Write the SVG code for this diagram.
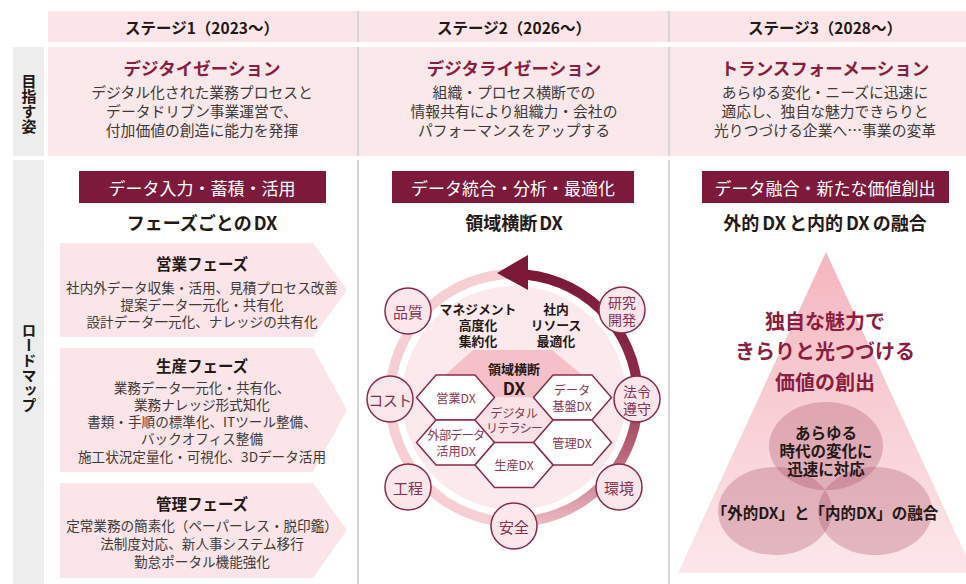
<svg xmlns="http://www.w3.org/2000/svg" width="966" height="584" viewBox="0 0 966 584">
<defs>
<style>
text{font-family:"Noto Sans CJK JP","Noto Sans",sans-serif;text-anchor:middle;dominant-baseline:central}
.hd{font-size:15.5px;font-weight:700;fill:#231815}
.t2{font-size:17.5px;font-weight:700;fill:#8b1d40}
.bd{font-size:14.8px;fill:#3e3a39}
.bx{fill:#7d1a3b}
.bxt{font-size:17px;fill:#fff}
.sub{font-size:18px;font-weight:700;fill:#231815}
.ph{fill:#fbe5e8}
.pht{font-size:15.5px;font-weight:700;fill:#231815}
.pb{font-size:13.6px;fill:#3e3a39}
.lbl{font-size:15px;font-weight:700;fill:#231815;writing-mode:tb}
.sc{fill:#fce8eb;stroke:#8b2a4a;stroke-width:1.5}
.sct{font-size:15px;fill:#8a3050}
.sc2{font-size:14px;fill:#8a3050}
.hx{fill:#fff;stroke:#8b2a4a;stroke-width:1.5}
.hxt{font-size:12.2px;fill:#8a3a55}
.mt{font-size:12.8px;font-weight:700;fill:#231815}
.pt{font-size:20px;font-weight:700;fill:#8b1d40}
.el{fill:#a0405a;fill-opacity:0.28}
.et{font-size:15.5px;font-weight:700;fill:#231815}
.dv{stroke:#d6d6d6;stroke-width:2}
</style>
<linearGradient id="arcg" gradientUnits="userSpaceOnUse" x1="0" y1="270" x2="0" y2="530">
<stop offset="0" stop-color="#7a1838"/>
<stop offset="0.45" stop-color="#8e2c4a"/>
<stop offset="0.72" stop-color="#bb6a7d"/>
<stop offset="1" stop-color="#f0c0c8"/>
</linearGradient>
<linearGradient id="trig" x1="0" y1="0" x2="0" y2="1">
<stop offset="0" stop-color="#f4b6bf"/>
<stop offset="1" stop-color="#fce7ea"/>
</linearGradient>
</defs>

<g id="grid">
<rect x="0" y="0" width="966" height="584" fill="#fff"/>
<rect x="48" y="11" width="918" height="31" fill="#fbe5e8"/>
<rect x="48" y="47" width="918" height="109" fill="#fbe8ea"/>
<rect x="13" y="47" width="31" height="109" fill="#ededed"/>
<rect x="13" y="160" width="31" height="424" fill="#ededed"/>
<line class="dv" x1="358" y1="11" x2="358" y2="42"/>
<line class="dv" x1="669" y1="11" x2="669" y2="42"/>
<line class="dv" x1="358" y1="47" x2="358" y2="156"/>
<line class="dv" x1="669" y1="47" x2="669" y2="156"/>
<line class="dv" x1="358" y1="160" x2="358" y2="584"/>
<line class="dv" x1="669" y1="160" x2="669" y2="584"/>
</g>

<g id="labels">
<text class="lbl" x="29" y="104">目指す姿</text>
<text class="lbl" x="29" y="368">ロードマップ</text>
</g>

<g id="header">
<text class="hd" x="202" y="27">ステージ1（2023〜）</text>
<text class="hd" x="514" y="27">ステージ2（2026〜）</text>
<text class="hd" x="825" y="27">ステージ3（2028〜）</text>
</g>

<g id="goal1">
<text class="t2" x="202" y="67">デジタイゼーション</text>
<text class="bd" x="202" y="91">デジタル化された業務プロセスと</text>
<text class="bd" x="202" y="110">データドリブン事業運営で、</text>
<text class="bd" x="202" y="129">付加価値の創造に能力を発揮</text>
</g>
<g id="goal2">
<text class="t2" x="514" y="67">デジタライゼーション</text>
<text class="bd" x="514" y="91">組織・プロセス横断での</text>
<text class="bd" x="514" y="110">情報共有により組織力・会社の</text>
<text class="bd" x="514" y="129">パフォーマンスをアップする</text>
</g>
<g id="goal3">
<text class="t2" x="825" y="67">トランスフォーメーション</text>
<text class="bd" x="825" y="91">あらゆる変化・ニーズに迅速に</text>
<text class="bd" x="825" y="110">適応し、独自な魅力できらりと</text>
<text class="bd" x="825" y="129">光りつづける企業へ…事業の変革</text>
</g>

<g id="title1">
<rect class="bx" x="79" y="171" width="247" height="32"/>
<text class="bxt" x="202" y="187">データ入力・蓄積・活用</text>
<text class="sub" x="202" y="222">フェーズごとの<tspan dx="2">DX</tspan></text>
</g>
<g id="phase-sales">
<polygon class="ph" points="60,243 313,243 347,290 313,337 60,337"/>
<text class="pht" x="202" y="263">営業フェーズ</text>
<text class="pb" x="202" y="287">社内外データ収集・活用、見積プロセス改善</text>
<text class="pb" x="202" y="304">提案データ一元化・共有化</text>
<text class="pb" x="202" y="321">設計データ一元化、ナレッジの共有化</text>
</g>
<g id="phase-prod">
<polygon class="ph" points="60,348 313,348 347,410 313,472 60,472"/>
<text class="pht" x="202" y="365">生産フェーズ</text>
<text class="pb" x="202" y="387">業務データ一元化・共有化、</text>
<text class="pb" x="202" y="404">業務ナレッジ形式知化</text>
<text class="pb" x="202" y="421">書類・手順の標準化、ITツール整備、</text>
<text class="pb" x="202" y="438">バックオフィス整備</text>
<text class="pb" x="202" y="456">施工状況定量化・可視化、3Dデータ活用</text>
</g>
<g id="phase-mgmt">
<polygon class="ph" points="60,483 313,483 347,530 313,578 60,578"/>
<text class="pht" x="202" y="503">管理フェーズ</text>
<text class="pb" x="202" y="525">定常業務の簡素化（ペーパーレス・脱印鑑）</text>
<text class="pb" x="202" y="543">法制度対応、新人事システム移行</text>
<text class="pb" x="202" y="561">勤怠ポータル機能強化</text>
</g>

<g id="title2">
<rect class="bx" x="392" y="171" width="242" height="32"/>
<text class="bxt" x="513" y="187">データ統合・分析・最適化</text>
<text class="sub" x="514" y="222">領域横断<tspan dx="2">DX</tspan></text>
</g>

<g id="ring">
<circle cx="514" cy="398" r="124" fill="none" stroke="#f6cfd5" stroke-width="10"/>
<circle cx="514" cy="398" r="112" fill="#fce9ec"/>
<path d="M527,274.7 A124,124 0 0 1 514,522" fill="none" stroke="url(#arcg)" stroke-width="10"/>
<polygon points="497,273 528,255 528,290" fill="#7a1838"/>
</g>

<g id="center-area">
<polygon points="473,350 552,350 582,375 533.5,397.5 494.5,397.5 445,375" fill="#f5c0c7"/>
<polygon points="494.5,397.5 533.5,397.5 553,420 533.5,442.5 494.5,442.5 475,420" fill="#fbe2e6"/>
<text x="514" y="368" style="font-size:13px;font-weight:700;fill:#231815">領域横断</text>
<text x="514" y="387" style="font-size:17px;font-weight:700;fill:#231815">DX</text>
<text class="mt" x="478" y="308">マネジメント</text>
<text class="mt" x="478" y="324">高度化</text>
<text class="mt" x="478" y="340">集約化</text>
<text class="mt" x="556" y="308">社内</text>
<text class="mt" x="556" y="324">リソース</text>
<text class="mt" x="556" y="340">最適化</text>
<text class="hxt" x="514" y="413" letter-spacing="-0.3">デジタル</text>
<text class="hxt" x="514" y="428" letter-spacing="-0.9">リテラシー</text>
</g>

<g id="hex-sales">
<polygon class="hx" points="436,375 475,375 494.5,397.5 475,420 436,420 416.5,397.5"/>
<text class="hxt" x="456" y="398">営業DX</text>
</g>
<g id="hex-data">
<polygon class="hx" points="553,375 592,375 611.5,397.5 592,420 553,420 533.5,397.5"/>
<text class="hxt" x="572" y="390">データ</text>
<text class="hxt" x="572" y="406">基盤DX</text>
</g>
<g id="hex-ext">
<polygon class="hx" points="436,420 475,420 494.5,442.5 475,465 436,465 416.5,442.5"/>
<text class="hxt" x="456" y="435" letter-spacing="-0.8">外部データ</text>
<text class="hxt" x="456" y="451">活用DX</text>
</g>
<g id="hex-mgmt">
<polygon class="hx" points="553,420 592,420 611.5,442.5 592,465 553,465 533.5,442.5"/>
<text class="hxt" x="572" y="443">管理DX</text>
</g>
<g id="hex-prod">
<polygon class="hx" points="494.5,442.5 533.5,442.5 553,465 533.5,487.5 494.5,487.5 475,465"/>
<text class="hxt" x="514" y="465">生産DX</text>
</g>

<g id="c-quality"><circle class="sc" cx="408" cy="311" r="23"/><text class="sct" x="408" y="311">品質</text></g>
<g id="c-rd"><circle class="sc" cx="622" cy="310" r="23"/><text class="sc2" x="622" y="302">研究</text><text class="sc2" x="622" y="319">開発</text></g>
<g id="c-cost"><circle class="sc" cx="390" cy="399" r="23"/><text class="sct" x="390" y="399" letter-spacing="-0.5">コスト</text></g>
<g id="c-law"><circle class="sc" cx="637" cy="399" r="23"/><text class="sc2" x="637" y="391">法令</text><text class="sc2" x="637" y="408">遵守</text></g>
<g id="c-process"><circle class="sc" cx="408" cy="487" r="23"/><text class="sct" x="408" y="487">工程</text></g>
<g id="c-env"><circle class="sc" cx="619" cy="487" r="23"/><text class="sct" x="619" y="487">環境</text></g>
<g id="c-safety"><circle class="sc" cx="514" cy="526" r="23"/><text class="sct" x="514" y="526">安全</text></g>

<g id="title3">
<rect class="bx" x="702" y="171" width="247" height="32"/>
<text class="bxt" x="825" y="187">データ融合・新たな価値創出</text>
<text class="sub" x="825" y="222">外的<tspan dx="3">DX</tspan><tspan dx="3">と内的</tspan><tspan dx="3">DX</tspan><tspan dx="3">の融合</tspan></text>
</g>
<g id="pyramid">
<polygon points="826,252 974,573 678,573" fill="url(#trig)"/>
<text class="pt" x="825" y="320">独自な魅力で</text>
<text class="pt" x="825" y="350">きらりと光つづける</text>
<text class="pt" x="825" y="381">価値の創出</text>
<ellipse class="el" cx="826" cy="446" rx="57" ry="44"/>
<ellipse class="el" cx="775" cy="511" rx="57" ry="44"/>
<ellipse class="el" cx="875" cy="511" rx="57" ry="44"/>
<text class="et" x="826" y="432">あらゆる</text>
<text class="et" x="826" y="450">時代の変化に</text>
<text class="et" x="826" y="468">迅速に対応</text>
<text class="et" x="825" y="512">「外的DX」と「内的DX」の融合</text>
</g>
</svg>
